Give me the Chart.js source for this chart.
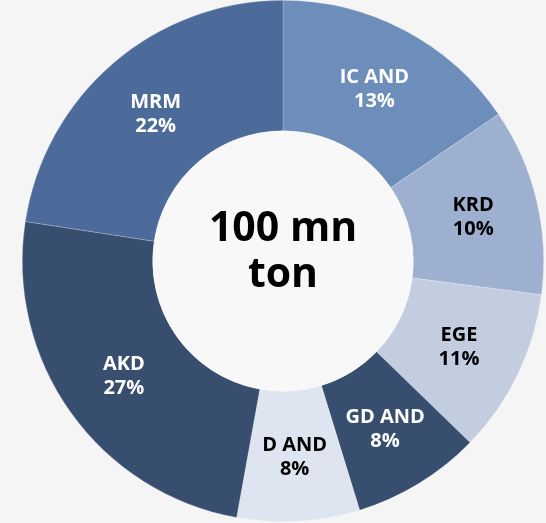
<!DOCTYPE html>
<html>
<head>
<meta charset="utf-8">
<script src="https://cdn.jsdelivr.net/npm/chart.js@4/dist/chart.umd.min.js"></script>
<style>
  html, body { margin: 0; padding: 0; background: #f5f5f5; }
  #wrap { width: 546px; height: 523px; }
</style>
</head>
<body>
<div id="wrap"><canvas id="donutChart"></canvas></div>
<script>
// slices, clockwise from 12 o'clock
const regions = ['IC AND', 'KRD', 'EGE', 'GD AND', 'D AND', 'AKD', 'MRM'];
// slice sizes as measured from the arcs in the picture
const shares = [15.5, 11.6, 10.2, 8.0, 7.6, 24.6, 22.6];
// percentages as printed on the slices
const shareLabels = ['13%', '10%', '11%', '8%', '8%', '27%', '22%'];
const centerLines = ['100 mn', 'ton'];

const sliceColors = ['#6d8eba', '#9db0cf', '#c2cde0', '#384e6e', '#dee5f0', '#384e6e', '#4c6b9a'];
const labelColors = ['#fff', '#000', '#000', '#fff', '#000', '#fff', '#fff'];

const fontFamily = '"Open Sans", "Segoe UI", sans-serif';

// draws name + percent on each slice and the total in the hole
const donutText = {
    id: 'donutText',
    afterDatasetsDraw(chart) {
        const ctx = chart.ctx;
        const arcs = chart.getDatasetMeta(0).data;
        ctx.save();
        ctx.textAlign = 'center';
        ctx.textBaseline = 'alphabetic';
        ctx.font = 'bold 20px ' + fontFamily;
        arcs.forEach((arc, i) => {
            const p = arc.tooltipPosition();
            ctx.fillStyle = labelColors[i];
            ctx.fillText(regions[i], p.x, p.y - 5);
            ctx.fillText(shareLabels[i], p.x, p.y + 19);
        });

        const first = arcs[0];
        ctx.beginPath();
        ctx.arc(first.x, first.y, first.innerRadius, 0, Math.PI * 2);
        ctx.fillStyle = '#f8f8f8';
        ctx.fill();

        ctx.fillStyle = '#000';
        ctx.font = 'bold 41px ' + fontFamily;
        ctx.fillText(centerLines[0], first.x, first.y - 20);
        ctx.fillText(centerLines[1], first.x, first.y + 26);
        ctx.restore();
    }
};

new Chart(document.getElementById('donutChart'), {
    type: 'doughnut',
    data: {
        labels: regions,
        datasets: [{
            data: shares,
            backgroundColor: sliceColors,
            borderColor: 'rgba(255,255,255,0.35)',
            borderWidth: 0.6
        }]
    },
    options: {
        responsive: true,
        maintainAspectRatio: false,
        animation: false,
        cutout: '50%',
        layout: { padding: { left: 20, right: 0, top: 0, bottom: 1 } },
        plugins: {
            legend: { display: false },
            tooltip: { enabled: false }
        }
    },
    plugins: [donutText]
});
</script>
</body>
</html>
